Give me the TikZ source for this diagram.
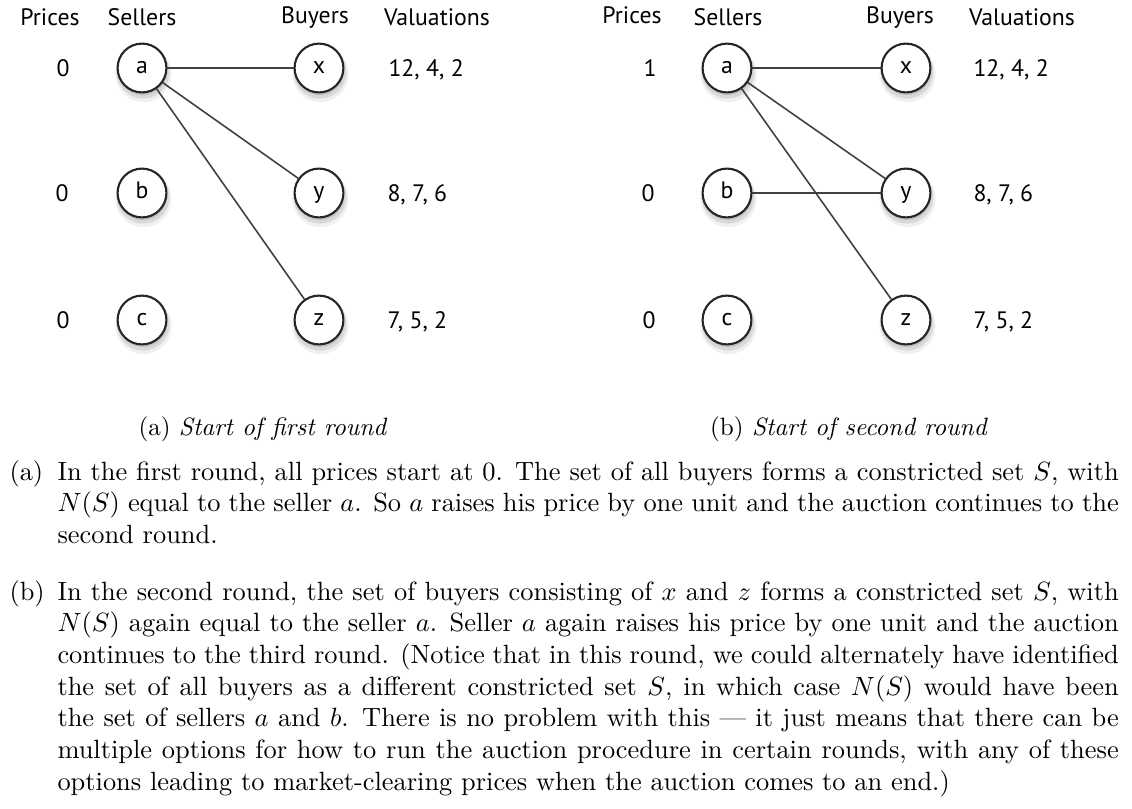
\documentclass[tikz,border=0pt]{standalone}
\usepackage{fontspec}
\newfontfamily\figfont{PT Sans}
\usetikzlibrary{shadows,positioning}
\tikzset{
  figtext/.style={font=\figfont\fontsize{9}{11}\selectfont, inner sep=0pt, text=black},
  agent/.style={figtext, circle, draw=black!85, line width=0.8pt, fill=white,
    minimum size=18.5pt, text height=1ex, text depth=0pt,
    drop shadow={shadow xshift=0.5pt, shadow yshift=-2pt, opacity=0.12, shadow scale=1.15},
    drop shadow={shadow xshift=0.4pt, shadow yshift=-1.5pt, opacity=0.2, shadow scale=1.08},
    drop shadow={shadow xshift=0.3pt, shadow yshift=-1pt, opacity=0.28}},
  head/.style={figtext, anchor=base},
  price/.style={figtext, anchor=base},
  vals/.style={figtext, anchor=base west},
  link/.style={draw=black!75, line width=0.6pt},
  caption/.style={anchor=base, inner sep=0pt, font=\fontsize{9.5}{11.5}\selectfont},
  itemlabel/.style={anchor=base west, inner sep=0pt, font=\fontsize{10}{12}\selectfont},
  para/.style={anchor=base west, inner sep=0pt, text width=402pt, align=justify,
    font=\fontsize{10}{12}\selectfont}
}

\begin{document}
\begin{tikzpicture}[x=0.3788pt, y=-0.3788pt]	%1 unit = 1px
  \useasboundingbox (0,0) rectangle (1132,808);

  % start of first round
  \node[head] (hp1) at (50,25) {Prices};
  \node[head] (hs1) at (142,25) {Sellers};
  \node[head] (hb1) at (315,23) {Buyers};
  \node[head] (hv1) at (437,25) {Valuations};

  \node[agent] (a1) at (142,68) {a};
  \node[agent] (b1) at (142,193) {b};
  \node[agent] (c1) at (142,320) {c};
  \node[agent] (x1) at (319,68) {x};
  \node[agent] (y1) at (319,193) {y};
  \node[agent] (z1) at (319,320) {z};

  \node[price] (pa1) at (63,76) {0};
  \node[price] (pb1) at (62,201) {0};
  \node[price] (pc1) at (63,328) {0};
  \node[vals] (vx1) at (388,76) {12, 4, 2};
  \node[vals] (vy1) at (387,201) {8, 7, 6};
  \node[vals] (vz1) at (387,328) {7, 5, 2};

  \draw[link] (a1) -- (x1);
  \draw[link] (a1) -- (y1);
  \draw[link] (a1) -- (z1);

  % start of second round
  \begin{scope}[shift={(585,0)}]
  \node[head] (hp2) at (47,23) {Prices};
  \node[head] (hs2) at (143,25) {Sellers};
  \node[head] (hb2) at (315,23) {Buyers};
  \node[head] (hv2) at (437,25) {Valuations};

  \node[agent] (a2) at (142,68) {a};
  \node[agent] (b2) at (142,193) {b};
  \node[agent] (c2) at (142,320) {c};
  \node[agent] (x2) at (321,68) {x};
  \node[agent] (y2) at (321,193) {y};
  \node[agent] (z2) at (321,320) {z};

  \node[price] (pa2) at (65,76) {1};
  \node[price] (pb2) at (63,201) {0};
  \node[price] (pc2) at (64,328) {0};
  \node[vals] (vx2) at (388,76) {12, 4, 2};
  \node[vals] (vy2) at (388,201) {8, 7, 6};
  \node[vals] (vz2) at (388,328) {7, 5, 2};
  \end{scope}

  \draw[link] (a2) -- (x2);
  \draw[link] (a2) -- (y2);
  \draw[link] (a2) -- (z2);
  \draw[link] (b2) -- (y2);

  \node[caption] (cap1) at (263,435) {(a) \textit{Start of first round}};
  \node[caption] (cap2) at (849,435) {(b) \textit{Start of second round}};

  \node[itemlabel] (la) at (9,480) {(a)};
  \node[para] (ta) at (57,480) {In the first round, all prices start at 0. The set of all buyers forms a constricted set $S$, with\linebreak
    $N(S)$ equal to the seller $a$. So $a$ raises his price by one unit and the auction continues to the\linebreak
    second round.};

  \node[itemlabel] (lb) at (9,600) {(b)};
  \node[para] (tb) at (57,600) {In the second round, the set of buyers consisting of $x$ and $z$ forms a constricted set $S$, with\linebreak
    $N(S)$ again equal to the seller $a$. Seller $a$ again raises his price by one unit and the auction\linebreak
    continues to the third round. (Notice that in this round, we could alternately have identified\linebreak
    the set of all buyers as a different constricted set $S$, in which case $N(S)$ would have been\linebreak
    the set of sellers $a$ and $b$. There is no problem with this --- it just means that there can be\linebreak
    multiple options for how to run the auction procedure in certain rounds, with any of these\linebreak
    options leading to market-clearing prices when the auction comes to an end.)};
\end{tikzpicture}
\end{document}
